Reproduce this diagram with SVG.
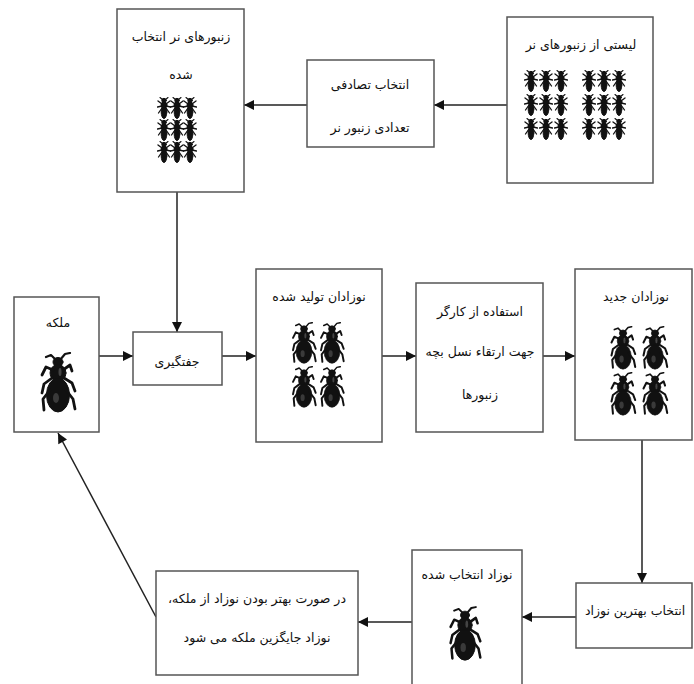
<svg xmlns="http://www.w3.org/2000/svg" width="694" height="684" viewBox="0 0 694 684">
<style>
.box{fill:#fff;stroke:#555;stroke-width:1.5}
.t{font-family:"DejaVu Sans","Noto Sans",sans-serif;font-size:12.5px;fill:#111;text-anchor:middle;direction:rtl}
.c{stroke:#222;stroke-width:1.5;fill:none}
</style>
<defs>
<marker id="ah" viewBox="0 0 10 10" refX="10" refY="5" markerWidth="11" markerHeight="10" orient="auto" markerUnits="userSpaceOnUse">
<path d="M0,0 L10,5 L0,10 z" fill="#111"/>
</marker>
<symbol id="sbee" viewBox="-7 -11 14 22">
<g fill="#111" stroke="#111" stroke-linecap="round">
<path d="M-1,-8 L-4,-10.5 M1,-8 L4,-10.5" stroke-width="1.1" fill="none"/>
<circle cx="0" cy="-7.5" r="2.2"/>
<ellipse cx="0" cy="-3" rx="3" ry="3"/>
<ellipse cx="0" cy="4" rx="2.8" ry="6.5"/>
<path d="M-2,-4 L-6,-7 M2,-4 L6,-7 M-2,-2 L-6.5,-1 M2,-2 L6.5,-1 M-2,0 L-5.5,5 M2,0 L5.5,5" stroke-width="1.3" fill="none"/>
</g>
</symbol>
<symbol id="bbee" viewBox="-20 -32 40 64">
<g fill="#111" stroke="#111" stroke-linecap="round" stroke-linejoin="round">
<path d="M-2,-24 L-7,-29 L-12,-27 M2,-24 L7,-30 L12,-31" stroke-width="2.2" fill="none"/>
<ellipse cx="0" cy="-22" rx="5" ry="4.5"/>
<ellipse cx="0" cy="-11" rx="8" ry="8.5"/>
<ellipse cx="0" cy="11" rx="11.5" ry="17"/>
<path d="M-5,-14 L-12,-17 L-16,-9 M5,-14 L12,-19 L14,-13 M-6,-6 L-14,0 L-16,9 M6,-6 L14,-1 L17,7 M-8,6 L-15,15 L-14,26 M8,6 L15,15 L17,25" stroke-width="2.8" fill="none"/>
<ellipse cx="-2" cy="14" rx="3" ry="5" fill="#3a3a3a" stroke="none"/>
<ellipse cx="2" cy="-12" rx="1.5" ry="4" fill="#444" stroke="none"/>
</g>
</symbol>
</defs>

<g id="connectors">
<line class="c" x1="507" y1="105" x2="434" y2="105" marker-end="url(#ah)"/>
<line class="c" x1="307" y1="105" x2="244" y2="105" marker-end="url(#ah)"/>
<line class="c" x1="177" y1="192" x2="177" y2="332" marker-end="url(#ah)"/>
<line class="c" x1="99" y1="356" x2="133" y2="356" marker-end="url(#ah)"/>
<line class="c" x1="222" y1="356" x2="256" y2="356" marker-end="url(#ah)"/>
<line class="c" x1="382" y1="356" x2="416" y2="356" marker-end="url(#ah)"/>
<line class="c" x1="543" y1="356" x2="575" y2="356" marker-end="url(#ah)"/>
<line class="c" x1="642" y1="440" x2="642" y2="583" marker-end="url(#ah)"/>
<line class="c" x1="576" y1="617" x2="522" y2="617" marker-end="url(#ah)"/>
<line class="c" x1="412" y1="622" x2="358" y2="622" marker-end="url(#ah)"/>
<line class="c" x1="156" y1="617" x2="58" y2="433" marker-end="url(#ah)"/>
</g>

<g id="selected-drones">
<rect class="box" x="117" y="9" width="127" height="183"/>
<text class="t" x="181" y="41">زنبورهای نر انتخاب</text>
<text class="t" x="181" y="79">شده</text>
<use href="#sbee" x="157" y="97" width="14" height="22"/>
<use href="#sbee" x="170" y="97" width="14" height="22"/>
<use href="#sbee" x="183" y="97" width="14" height="22"/>
<use href="#sbee" x="157" y="119" width="14" height="22"/>
<use href="#sbee" x="170" y="119" width="14" height="22"/>
<use href="#sbee" x="183" y="119" width="14" height="22"/>
<use href="#sbee" x="157" y="141" width="14" height="22"/>
<use href="#sbee" x="170" y="141" width="14" height="22"/>
<use href="#sbee" x="183" y="141" width="14" height="22"/>
</g>

<g id="random-select">
<rect class="box" x="307" y="60" width="127" height="87"/>
<text class="t" x="370" y="89">انتخاب تصادفی</text>
<text class="t" x="370" y="132">تعدادی زنبور نر</text>
</g>

<g id="drone-list">
<rect class="box" x="507" y="17" width="146" height="166"/>
<text class="t" x="581" y="49">لیستی از زنبورهای نر</text>
<use href="#sbee" x="524" y="70" width="14" height="22"/>
<use href="#sbee" x="539" y="70" width="14" height="22"/>
<use href="#sbee" x="554" y="70" width="14" height="22"/>
<use href="#sbee" x="582" y="70" width="14" height="22"/>
<use href="#sbee" x="597" y="70" width="14" height="22"/>
<use href="#sbee" x="612" y="70" width="14" height="22"/>
<use href="#sbee" x="524" y="94" width="14" height="22"/>
<use href="#sbee" x="539" y="94" width="14" height="22"/>
<use href="#sbee" x="554" y="94" width="14" height="22"/>
<use href="#sbee" x="582" y="94" width="14" height="22"/>
<use href="#sbee" x="597" y="94" width="14" height="22"/>
<use href="#sbee" x="612" y="94" width="14" height="22"/>
<use href="#sbee" x="524" y="118" width="14" height="22"/>
<use href="#sbee" x="539" y="118" width="14" height="22"/>
<use href="#sbee" x="554" y="118" width="14" height="22"/>
<use href="#sbee" x="582" y="118" width="14" height="22"/>
<use href="#sbee" x="597" y="118" width="14" height="22"/>
<use href="#sbee" x="612" y="118" width="14" height="22"/>
</g>

<g id="queen">
<rect class="box" x="14" y="297" width="85" height="135"/>
<text class="t" x="58" y="327">ملکه</text>
<use href="#bbee" x="38" y="352" width="40" height="64"/>
</g>

<g id="mating">
<rect class="box" x="133" y="332" width="89" height="53"/>
<text class="t" x="177" y="366">جفتگیری</text>
</g>

<g id="produced-offspring">
<rect class="box" x="256" y="269" width="126" height="173"/>
<text class="t" x="319" y="301">نوزادان تولید شده</text>
<use href="#bbee" x="290" y="322" width="28" height="44"/>
<use href="#bbee" x="318" y="322" width="28" height="44"/>
<use href="#bbee" x="290" y="366" width="28" height="44"/>
<use href="#bbee" x="318" y="366" width="28" height="44"/>
</g>

<g id="worker">
<rect class="box" x="416" y="283" width="127" height="149"/>
<text class="t" x="480" y="316">استفاده از کارگر</text>
<text class="t" x="480" y="356">جهت ارتقاء نسل بچه</text>
<text class="t" x="480" y="399">زنبورها</text>
</g>

<g id="new-offspring">
<rect class="box" x="575" y="269" width="117" height="171"/>
<text class="t" x="636" y="301">نوزادان جدید</text>
<use href="#bbee" x="608" y="326" width="30" height="46"/>
<use href="#bbee" x="640" y="326" width="30" height="46"/>
<use href="#bbee" x="608" y="372" width="30" height="46"/>
<use href="#bbee" x="640" y="372" width="30" height="46"/>
</g>

<g id="best-select">
<rect class="box" x="576" y="583" width="116" height="65"/>
<text class="t" x="635" y="615">انتخاب بهترین نوزاد</text>
</g>

<g id="selected-offspring">
<rect class="box" x="412" y="550" width="110" height="140"/>
<text class="t" x="467" y="579">نوزاد انتخاب شده</text>
<use href="#bbee" x="447" y="606" width="36" height="58"/>
</g>

<g id="replace">
<rect class="box" x="156" y="571" width="202" height="104"/>
<text class="t" x="257" y="603">در صورت بهتر بودن نوزاد از ملکه،</text>
<text class="t" x="257" y="642">نوزاد جایگزین ملکه می شود</text>
</g>
</svg>
